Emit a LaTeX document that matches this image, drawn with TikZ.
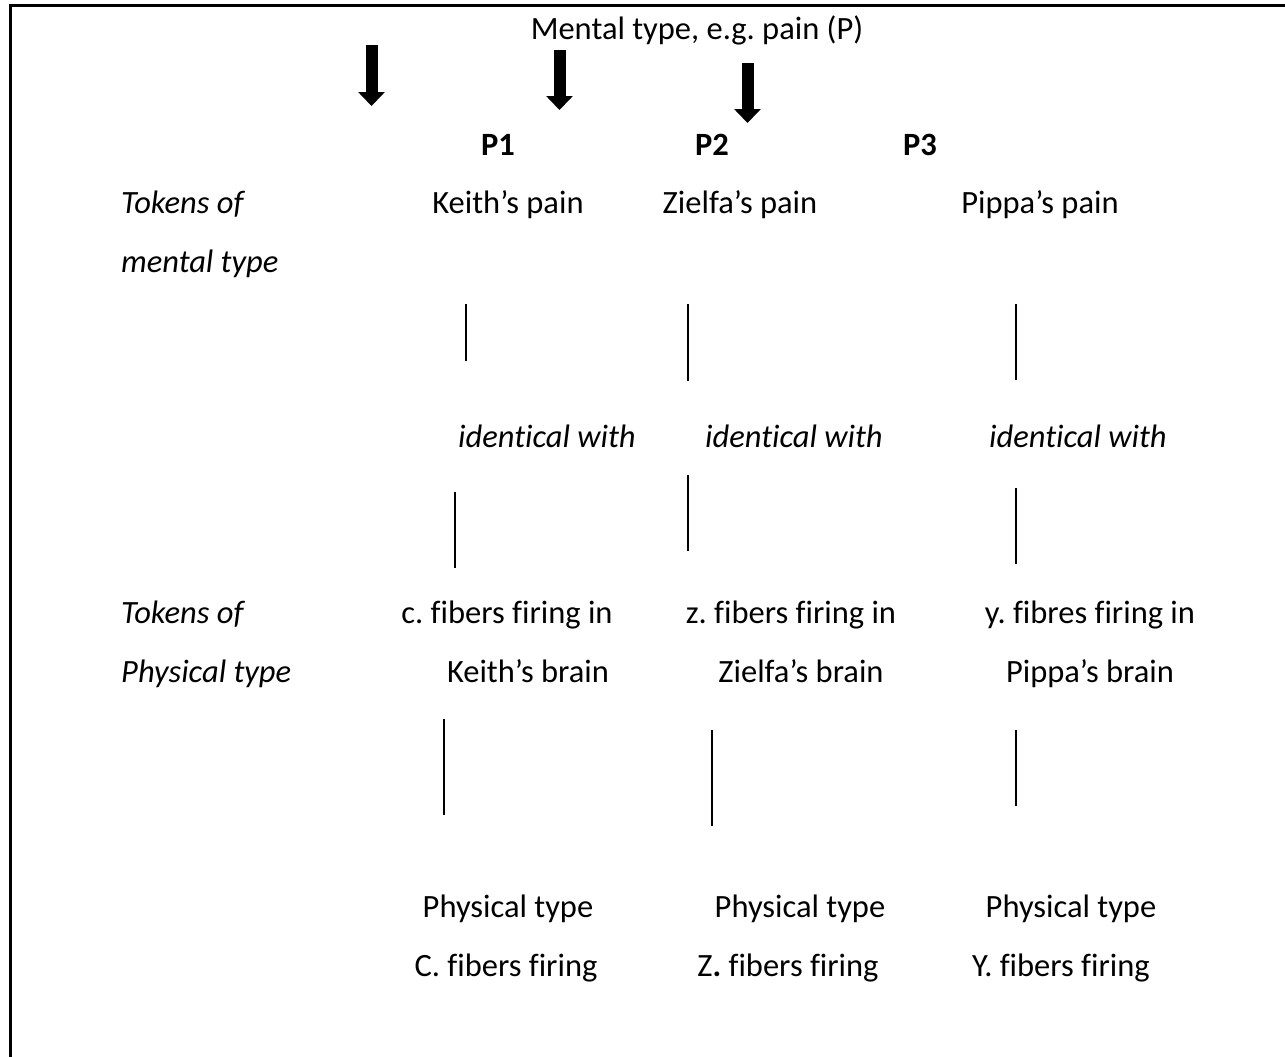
\documentclass[tikz,border=0pt]{standalone}
\usepackage{fontspec}
\setmainfont[Ligatures=NoCommon]{Carlito}
\usetikzlibrary{arrows.meta}
\frenchspacing
\tikzset{
  lbl/.style={anchor=base, inner sep=0pt, font=\fontsize{32.5}{39}\selectfont},
  lblL/.style={lbl, anchor=base west},
  ital/.style={font=\fontsize{32.5}{39}\selectfont\itshape},
  bold/.style={font=\fontsize{32.5}{39}\selectfont\bfseries},
  tie/.style={line width=2pt, black},
  frame/.style={line width=3pt, black},
  bigarrow/.style={line width=12pt, -{Triangle[width=26pt,length=14pt]}}
}
\begin{document}
\begin{tikzpicture}[x=1pt, y=-1pt]
\useasboundingbox (0,0) rectangle (1285,1057);
% frame (top and left only)
\coordinate (fTR) at (1285,5.5);
\coordinate (fTL) at (10,5.5);
\coordinate (fBL) at (10,1057);
\draw[frame] (fTR) -- (fTL) -- (fBL);

% title
\node[lbl] (title) at (697,40) {Mental type, e.g. pain (P)};

% big arrows
\coordinate (a1s) at (371.5,45);  \coordinate (a1e) at (371.5,106);
\coordinate (a2s) at (559.5,50);  \coordinate (a2e) at (559.5,110);
\coordinate (a3s) at (747.5,63);  \coordinate (a3e) at (747.5,123);
\draw[bigarrow] (a1s) -- (a1e);
\draw[bigarrow] (a2s) -- (a2e);
\draw[bigarrow] (a3s) -- (a3e);

% P labels
\node[lbl, bold] (p1) at (498,155) {P1};
\node[lbl, bold] (p2) at (712,155) {P2};
\node[lbl, bold] (p3) at (920,155) {P3};

% left side labels
\node[lblL, ital] (tok1) at (121,213) {Tokens of};
\node[lblL, ital] (tok1b) at (121,272) {mental type};
\node[lblL, ital] (tok2) at (121,623) {Tokens of};
\node[lblL, ital] (tok2b) at (121,682) {Physical type};

% mental tokens
\node[lbl] (kp) at (508,213) {Keith’s pain};
\node[lbl] (zp) at (740,213) {Zielfa’s pain};
\node[lbl] (pp) at (1040,213) {Pippa’s pain};

% identical with
\node[lbl, ital] (id1) at (547,447) {identical with};
\node[lbl, ital] (id2) at (794,447) {identical with};
\node[lbl, ital] (id3) at (1078,447) {identical with};

% physical tokens
\node[lbl] (cf) at (507,623) {c. fibers firing in};
\node[lbl] (cfb) at (528,682) {Keith’s brain};
\node[lbl] (zf) at (791,623) {z. fibers firing in};
\node[lbl] (zfb) at (801,682) {Zielfa’s brain};
\node[lbl] (yf) at (1090,623) {y. fibres firing in};
\node[lbl] (yfb) at (1090,682) {Pippa’s brain};

% physical types
\node[lbl] (pt1) at (508,917) {Physical type};
\node[lbl] (pt1b) at (506,976) {C. fibers firing};
\node[lbl] (pt2) at (800,917) {Physical type};
\node[lbl] (pt2b) at (788,976) {Z\textbf{.} fibers firing};
\node[lbl] (pt3) at (1071,917) {Physical type};
\node[lbl] (pt3b) at (1061,976) {Y. fibers firing};

% connecting strokes, column 1
\coordinate (c1a) at (466,304); \coordinate (c1b) at (466,361);
\coordinate (c1c) at (455,492); \coordinate (c1d) at (455,568);
\coordinate (c1e) at (444,719); \coordinate (c1f) at (444,815);
\draw[tie] (c1a) -- (c1b);
\draw[tie] (c1c) -- (c1d);
\draw[tie] (c1e) -- (c1f);
% column 2
\coordinate (c2a) at (688,304); \coordinate (c2b) at (688,381);
\coordinate (c2c) at (688,475); \coordinate (c2d) at (688,551);
\coordinate (c2e) at (712,730); \coordinate (c2f) at (712,826);
\draw[tie] (c2a) -- (c2b);
\draw[tie] (c2c) -- (c2d);
\draw[tie] (c2e) -- (c2f);
% column 3
\coordinate (c3a) at (1016,304); \coordinate (c3b) at (1016,380);
\coordinate (c3c) at (1016,488); \coordinate (c3d) at (1016,564);
\coordinate (c3e) at (1016,730); \coordinate (c3f) at (1016,806);
\draw[tie] (c3a) -- (c3b);
\draw[tie] (c3c) -- (c3d);
\draw[tie] (c3e) -- (c3f);
\end{tikzpicture}
\end{document}
